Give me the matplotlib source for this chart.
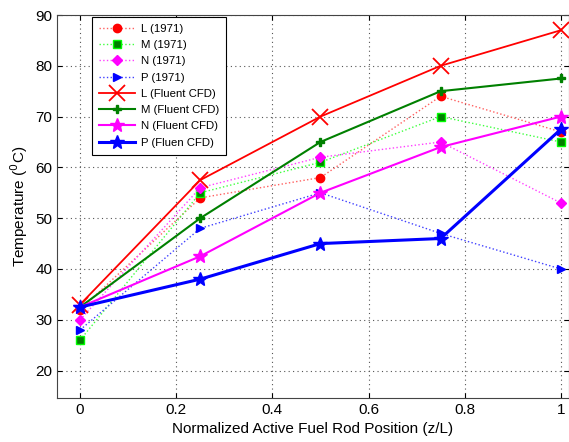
import matplotlib
matplotlib.use("Agg")
import matplotlib.pyplot as plt

plt.rcParams['font.family'] = ['Liberation Sans', 'DejaVu Sans']

z = [0, 0.25, 0.5, 0.75, 1.0]
L_1971 = [32, 54, 58, 74, 67]
M_1971 = [26, 55, 61, 70, 65]
N_1971 = [30, 56, 62, 65, 53]
P_1971 = [28, 48, 55, 47, 40]
L_cfd = [33, 57.5, 70, 80, 87]
M_cfd = [32.5, 50, 65, 75, 77.5]
N_cfd = [32.5, 42.5, 55, 64, 70]
P_cfd = [32.5, 38, 45, 46, 67.5]

fig = plt.figure(figsize=(5.69, 4.42), dpi=100)
ax = fig.add_axes([57/569, 1-398/442, (569-57)/569, (398-15)/442])

ax.plot(z, L_1971, ':', color='#ff6060', lw=1, marker='o', ms=6, mfc='red', mec='red', label='L (1971)')
ax.plot(z, M_1971, ':', color='#40ff40', lw=1, marker='s', ms=6, mfc='#008000', mec='#00ff00', label='M (1971)')
ax.plot(z, N_1971, ':', color='#ff40ff', lw=1, marker='D', ms=5, mfc='magenta', mec='magenta', label='N (1971)')
ax.plot(z, P_1971, ':', color='#4040ff', lw=1, marker='>', ms=6, mfc='blue', mec='blue', label='P (1971)')
ax.plot(z, L_cfd, '-', color='red', lw=1.3, marker='x', ms=12, mew=1.3, label='L (Fluent CFD)')
ax.plot(z, M_cfd, '-', color='#008000', lw=1.5, marker='P', ms=6, label='M (Fluent CFD)')
ax.plot(z, N_cfd, '-', color='magenta', lw=1.5, marker='*', ms=10, label='N (Fluent CFD)')
ax.plot(z, P_cfd, '-', color='blue', lw=2.2, marker='*', ms=10, label='P (Fluen CFD)')

ax.set_xlim(-0.048, 1.017)
ax.set_ylim(14.6, 90)
ax.set_xticks([0, 0.2, 0.4, 0.6, 0.8, 1])
ax.set_xticklabels(['0', '0.2', '0.4', '0.6', '0.8', '1'])
ax.set_yticks([20, 30, 40, 50, 60, 70, 80, 90])
ax.grid(True, linestyle=(0, (1, 3)), color='#555555', lw=0.8)
ax.tick_params(direction='in', labelsize=11, top=True, right=True)
ax.set_xlabel('Normalized Active Fuel Rod Position (z/L)', fontsize=11)
ax.set_ylabel('Temperature ($^0$C)', fontsize=11)
for s in ax.spines.values():
    s.set_color('#444444')

leg = ax.legend(loc='upper left', bbox_to_anchor=((92-57)/512, (398-17)/383), borderaxespad=0,
                fontsize=8.2, fancybox=False, edgecolor='black', framealpha=1,
                handlelength=3.2, labelspacing=0.55, borderpad=0.6, handletextpad=0.5)
leg.get_frame().set_linewidth(0.8)

fig.savefig('out.png', dpi=100)
